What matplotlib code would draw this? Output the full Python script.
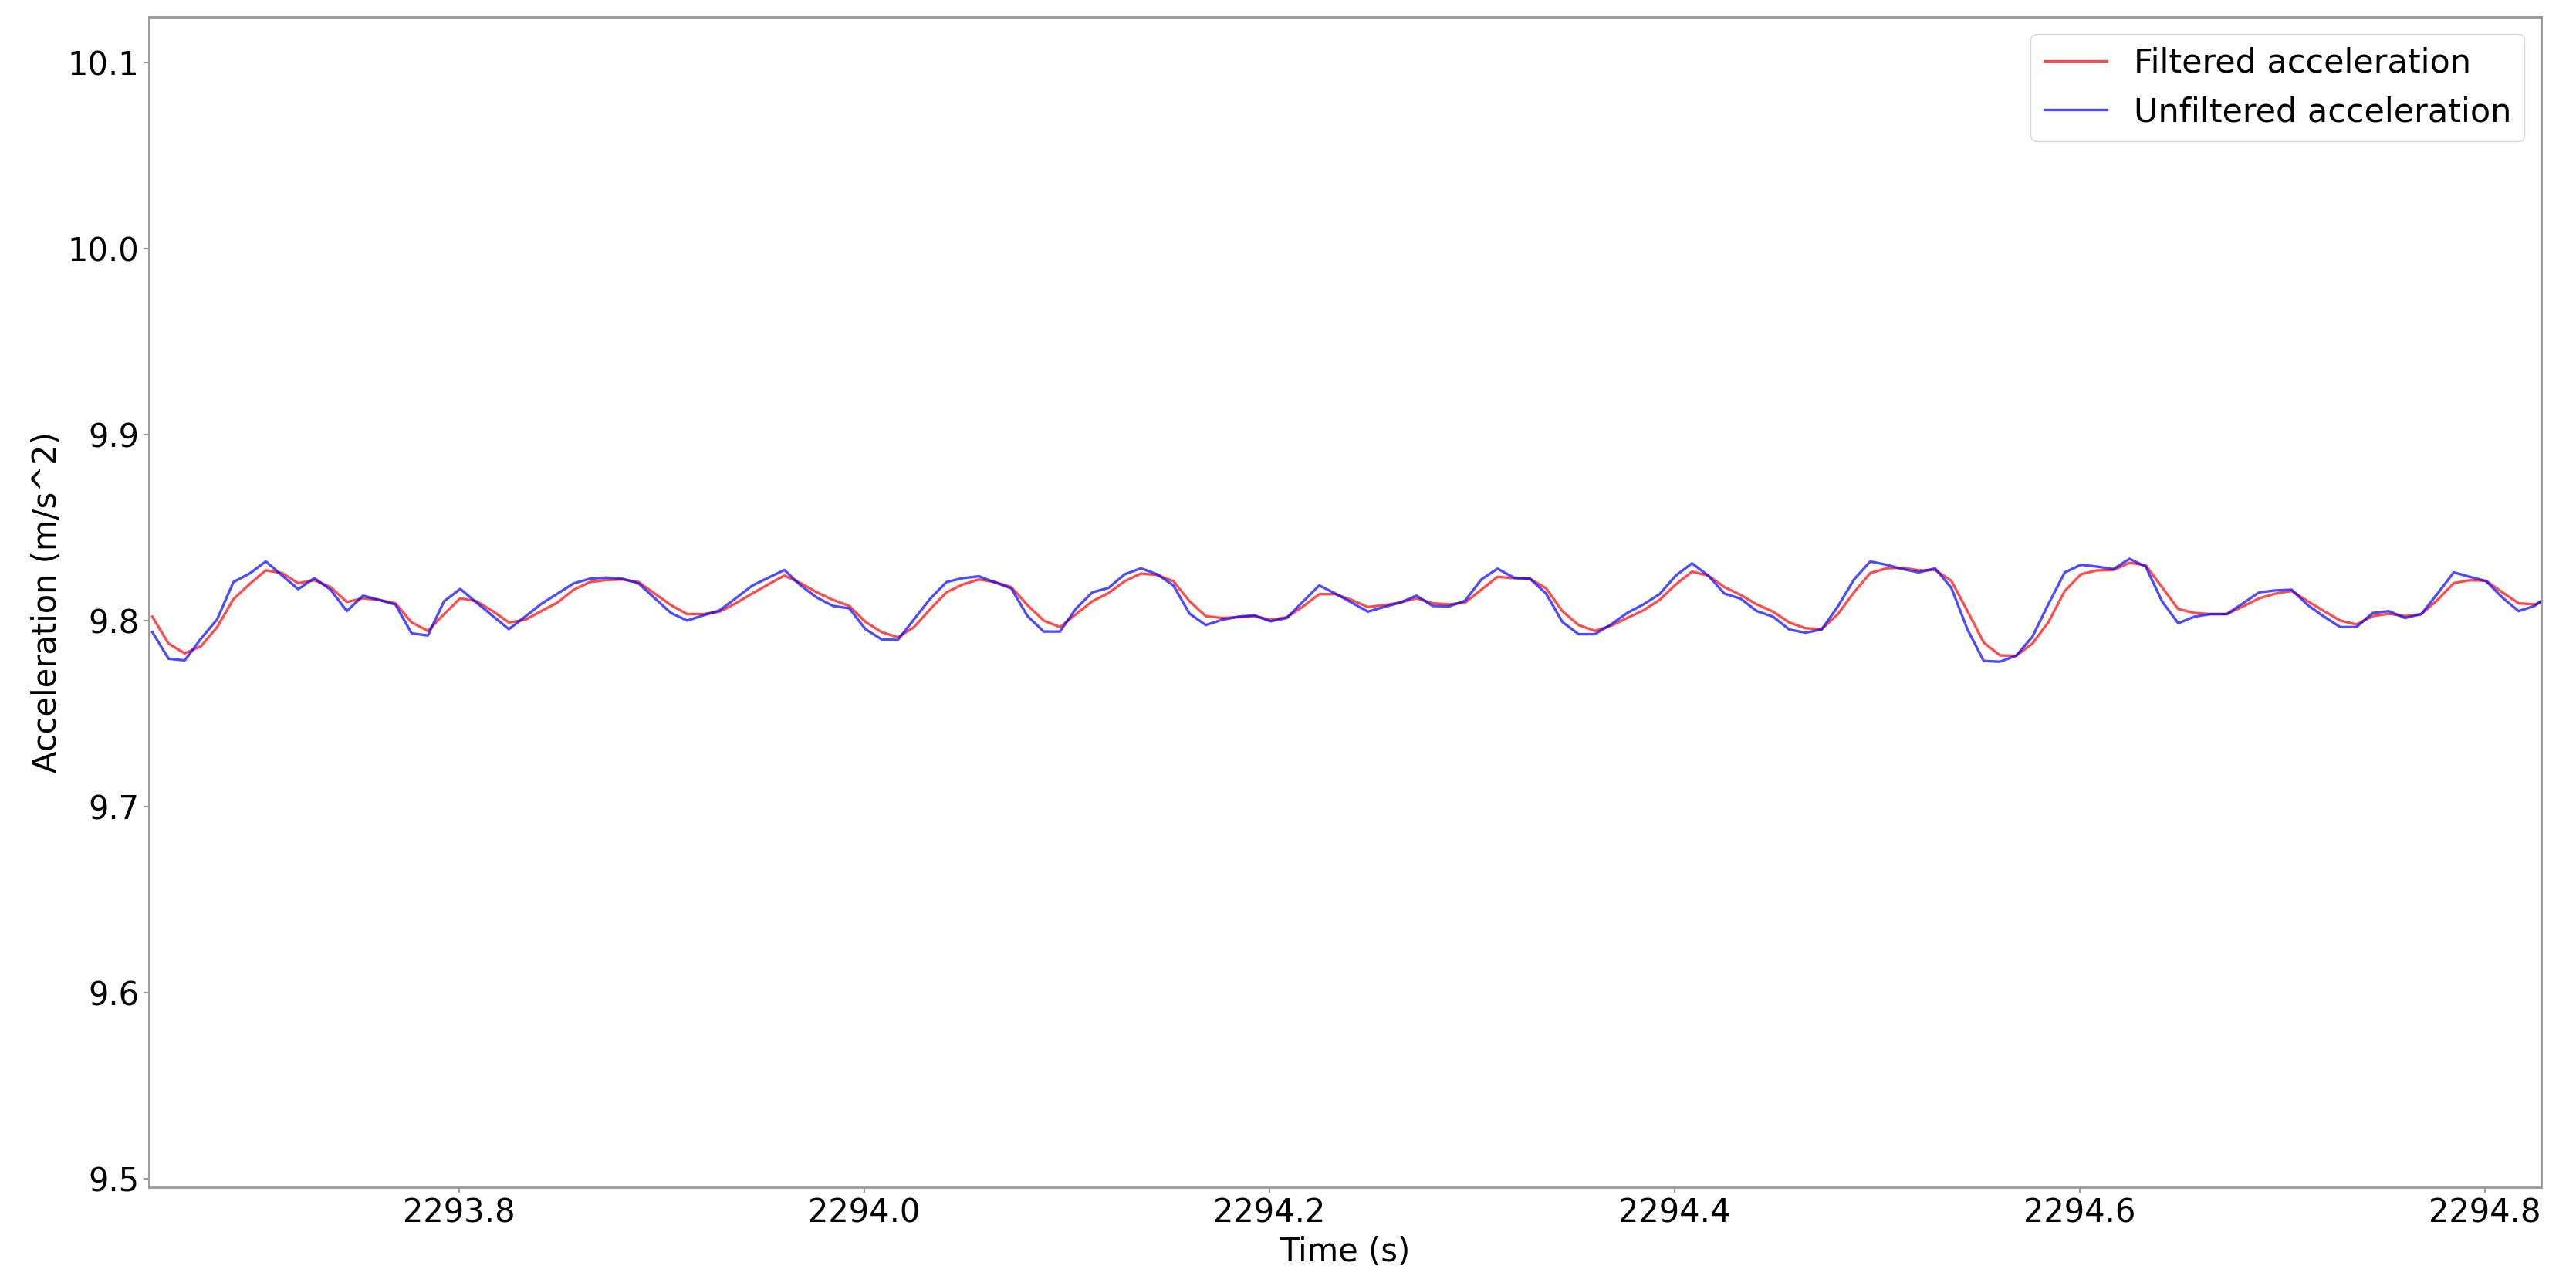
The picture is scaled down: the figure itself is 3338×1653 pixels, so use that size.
# plot_filter.py
# filtered vs unfiltered accelerometer magnitude over a short window

import numpy as np
import matplotlib
matplotlib.use('Agg')
import matplotlib.pyplot as plt

# sampling of the window (125 Hz)
T_START = 2293.6486
SAMPLE_PERIOD = 0.008
X_LIMITS = (2293.6469, 2294.8278)
Y_LIMITS = (9.4954, 10.1245)

unfiltered = [
    9.7938, 9.7795, 9.7786, 9.7903, 9.8007, 9.8207, 9.8253, 9.8318, 9.8243, 9.8169,
    9.8228, 9.8166, 9.8051, 9.8134, 9.8111, 9.8086, 9.7931, 9.7920, 9.8104, 9.8170,
    9.8097, 9.8025, 9.7954, 9.8021, 9.8090, 9.8145, 9.8200, 9.8225, 9.8231, 9.8225,
    9.8200, 9.8120, 9.8041, 9.8000, 9.8028, 9.8055, 9.8120, 9.8187, 9.8230, 9.8272,
    9.8189, 9.8124, 9.8079, 9.8066, 9.7954, 9.7899, 9.7896, 9.8007, 9.8118, 9.8207,
    9.8228, 9.8238, 9.8205, 9.8173, 9.8024, 9.7941, 9.7941, 9.8065, 9.8152, 9.8176,
    9.8249, 9.8281, 9.8249, 9.8189, 9.8037, 9.7976, 9.8004, 9.8021, 9.8028, 9.7996,
    9.8014, 9.8102, 9.8189, 9.8145, 9.8097, 9.8048, 9.8073, 9.8097, 9.8134, 9.8079,
    9.8076, 9.8107, 9.8221, 9.8279, 9.8231, 9.8225, 9.8145, 9.7993, 9.7927, 9.7927,
    9.7979, 9.8041, 9.8087, 9.8142, 9.8242, 9.8308, 9.8242, 9.8145, 9.8118, 9.8051,
    9.8021, 9.7952, 9.7935, 9.7952, 9.8076, 9.8221, 9.8318, 9.8300, 9.8277, 9.8259,
    9.8281, 9.8176, 9.7952, 9.7783, 9.7779, 9.7811, 9.7913, 9.8090, 9.8259, 9.8300,
    9.8290, 9.8277, 9.8332, 9.8290, 9.8104, 9.7986, 9.8021, 9.8035, 9.8035, 9.8093,
    9.8152, 9.8162, 9.8166, 9.8083, 9.8021, 9.7965, 9.7965, 9.8041, 9.8051, 9.8014,
    9.8035, 9.8145, 9.8259, 9.8235, 9.8212, 9.8124, 9.8051, 9.8079, 9.8148,
]

filtered = [
    9.8021, 9.7876, 9.7824, 9.7862, 9.7965, 9.8115, 9.8196, 9.8270, 9.8256, 9.8201,
    9.8217, 9.8180, 9.8100, 9.8120, 9.8111, 9.8093, 9.7990, 9.7945, 9.8035, 9.8120,
    9.8104, 9.8051, 9.7990, 9.8004, 9.8051, 9.8097, 9.8166, 9.8207, 9.8218, 9.8221,
    9.8207, 9.8145, 9.8083, 9.8035, 9.8035, 9.8048, 9.8093, 9.8145, 9.8194, 9.8242,
    9.8201, 9.8152, 9.8111, 9.8079, 9.7993, 9.7938, 9.7910, 9.7965, 9.8062, 9.8152,
    9.8194, 9.8221, 9.8207, 9.8180, 9.8083, 9.8000, 9.7965, 9.8035, 9.8104, 9.8148,
    9.8212, 9.8253, 9.8245, 9.8212, 9.8104, 9.8024, 9.8014, 9.8018, 9.8024, 9.8004,
    9.8018, 9.8076, 9.8142, 9.8142, 9.8111, 9.8073, 9.8083, 9.8097, 9.8120, 9.8093,
    9.8087, 9.8097, 9.8166, 9.8235, 9.8228, 9.8225, 9.8173, 9.8051, 9.7976, 9.7945,
    9.7972, 9.8014, 9.8055, 9.8111, 9.8194, 9.8263, 9.8242, 9.8180, 9.8138, 9.8087,
    9.8048, 9.7990, 9.7959, 9.7954, 9.8035, 9.8152, 9.8256, 9.8281, 9.8284, 9.8270,
    9.8272, 9.8214, 9.8051, 9.7882, 9.7813, 9.7811, 9.7876, 9.7993, 9.8159, 9.8249,
    9.8270, 9.8272, 9.8311, 9.8297, 9.8180, 9.8062, 9.8041, 9.8035, 9.8035, 9.8076,
    9.8120, 9.8145, 9.8159, 9.8104, 9.8051, 9.8000, 9.7979, 9.8024, 9.8037, 9.8024,
    9.8035, 9.8111, 9.8201, 9.8217, 9.8214, 9.8152, 9.8093, 9.8087, 9.8120,
]

t = T_START + SAMPLE_PERIOD * np.arange(len(unfiltered))

fig = plt.figure(figsize=(33.38, 16.53), dpi=100)
ax = fig.add_axes([0.0578, 0.0696, 0.9287, 0.9171])

ax.plot(t, filtered, color='red', alpha=0.7, linewidth=2.4,
        label='Filtered acceleration')
ax.plot(t, unfiltered, color='blue', alpha=0.7, linewidth=2.4,
        label='Unfiltered acceleration')

ax.set_xlim(*X_LIMITS)
ax.set_ylim(*Y_LIMITS)
ax.set_xticks([2293.8, 2294.0, 2294.2, 2294.4, 2294.6, 2294.8])
ax.set_yticks([9.5, 9.6, 9.7, 9.8, 9.9, 10.0, 10.1])

ax.set_xlabel('Time (s)', fontsize=30, labelpad=6)
ax.set_ylabel('Acceleration (m/s^2)', fontsize=30, labelpad=4)
ax.tick_params(labelsize=30, length=5, width=1.5, color='#999999', pad=4)
for sp in ax.spines.values():
    sp.set_edgecolor('#999999')
    sp.set_linewidth(2.0)

ax.legend(loc='upper right', fontsize=31, handlelength=1.9)

fig.savefig('out.png', dpi=100)
